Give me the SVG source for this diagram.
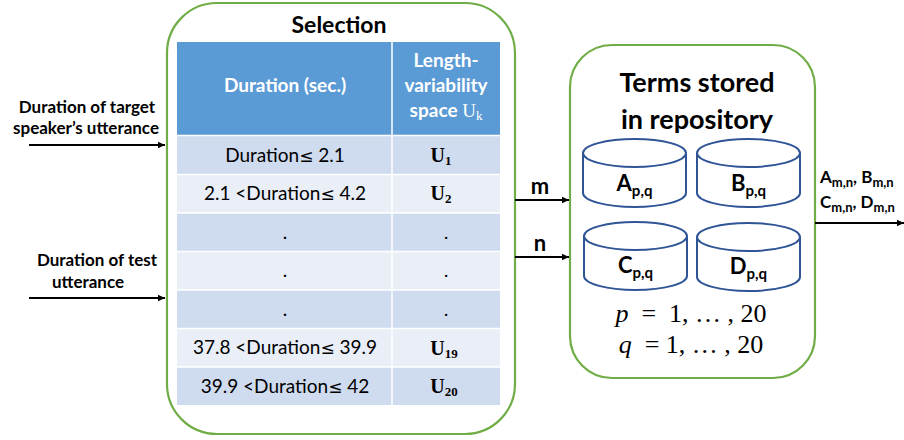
<svg xmlns="http://www.w3.org/2000/svg" width="904" height="440" viewBox="0 0 904 440">
<defs>
<marker id="ah" markerWidth="8" markerHeight="8" refX="7" refY="4" orient="auto" markerUnits="userSpaceOnUse">
<path d="M0,0.8 L7,4 L0,7.2 z" fill="#000"/>
</marker>
<style>
.panel{fill:#fff;stroke:#70AD47;stroke-width:2.2}
.hdr{fill:#5B9BD5}
.r1{fill:#CFDBEE}
.r2{fill:#E9EEF7}
.grid{stroke:#fff;stroke-width:1.5}
.t{font-family:Lato,"Liberation Sans",sans-serif;fill:#000}
.b{font-weight:bold}
.w{fill:#fff}
.m{font-family:"Liberation Serif","DejaVu Serif",serif;fill:#000}
.cyl{fill:#fff;stroke:#2F5597;stroke-width:2}
.conn{stroke:#000;stroke-width:2;fill:none}
.td{font-size:19px}
.le{font-family:"DejaVu Sans",sans-serif;font-size:17px}
</style>
</defs>
<rect width="904" height="440" fill="#fff"/>

<g id="selection">
<rect class="panel" x="167" y="3" width="348" height="431" rx="50" ry="50"/>
<text class="t b" x="339" y="33" font-size="23" text-anchor="middle">Selection</text>
<rect class="hdr" x="177" y="42" width="323" height="93"/>
<rect class="r1" x="177" y="136" width="323" height="38"/>
<rect class="r2" x="177" y="174.5" width="323" height="38"/>
<rect class="r1" x="177" y="213" width="323" height="38"/>
<rect class="r2" x="177" y="251.5" width="323" height="38"/>
<rect class="r1" x="177" y="290" width="323" height="38"/>
<rect class="r2" x="177" y="328.5" width="323" height="38"/>
<rect class="r1" x="177" y="367" width="323" height="38"/>
<line class="grid" x1="392" y1="42" x2="392" y2="405"/>
<line class="grid" x1="177" y1="135.5" x2="500" y2="135.5"/>
<line class="grid" x1="177" y1="174.5" x2="500" y2="174.5"/>
<line class="grid" x1="177" y1="213" x2="500" y2="213"/>
<line class="grid" x1="177" y1="251.5" x2="500" y2="251.5"/>
<line class="grid" x1="177" y1="290" x2="500" y2="290"/>
<line class="grid" x1="177" y1="328.5" x2="500" y2="328.5"/>
<line class="grid" x1="177" y1="367" x2="500" y2="367"/>
<text class="t b w" x="285" y="92" font-size="19" text-anchor="middle">Duration (sec.)</text>
<text class="t b w" x="446" y="67" font-size="19" text-anchor="middle">Length-</text>
<text class="t b w" x="446" y="92" font-size="19" text-anchor="middle">variability</text>
<text class="t b w" x="446" y="117" font-size="19" text-anchor="middle">space <tspan font-family="Liberation Serif,serif" font-weight="normal">U<tspan font-size="13" dy="3">k</tspan></tspan></text>
<text class="t td" x="285" y="162" text-anchor="middle">Duration<tspan class="le">≤</tspan> 2.1</text>
<text class="t td" x="285" y="200" text-anchor="middle">2.1 &lt;Duration<tspan class="le">≤</tspan> 4.2</text>
<text class="t td" x="285" y="239" text-anchor="middle">.</text>
<text class="t td" x="285" y="277" text-anchor="middle">.</text>
<text class="t td" x="285" y="316" text-anchor="middle">.</text>
<text class="t td" x="285" y="354" text-anchor="middle">37.8 &lt;Duration<tspan class="le">≤</tspan> 39.9</text>
<text class="t td" x="285" y="393" text-anchor="middle">39.9 &lt;Duration<tspan class="le">≤</tspan> 42</text>
<text class="m b" x="441" y="162" font-size="20" text-anchor="middle">U<tspan font-size="13" dy="3">1</tspan></text>
<text class="m b" x="441" y="200" font-size="20" text-anchor="middle">U<tspan font-size="13" dy="3">2</tspan></text>
<text class="m" x="446" y="239" font-size="19" text-anchor="middle">.</text>
<text class="m" x="446" y="277" font-size="19" text-anchor="middle">.</text>
<text class="m" x="446" y="316" font-size="19" text-anchor="middle">.</text>
<text class="m b" x="444" y="355" font-size="20" text-anchor="middle">U<tspan font-size="13" dy="3">19</tspan></text>
<text class="m b" x="444" y="393" font-size="20" text-anchor="middle">U<tspan font-size="13" dy="3">20</tspan></text>
</g>

<g id="repository">
<rect class="panel" x="570" y="45" width="245" height="333" rx="42" ry="42"/>
<text class="t b" x="697" y="92" font-size="27" text-anchor="middle">Terms stored</text>
<text class="t b" x="697" y="129" font-size="27" text-anchor="middle">in repository</text>
</g>

<g id="cylA">
<path class="cyl" d="M583,153 V193 A51.5,14 0 0 0 686,193 V153"/>
<ellipse class="cyl" cx="634.5" cy="153" rx="51.5" ry="14"/>
<text class="t b" x="634.5" y="191" font-size="22" text-anchor="middle">A<tspan font-size="15" dy="5">p,q</tspan></text>
</g>
<g id="cylB">
<path class="cyl" d="M697,153 V193 A51.5,14 0 0 0 800,193 V153"/>
<ellipse class="cyl" cx="748.5" cy="153" rx="51.5" ry="14"/>
<text class="t b" x="748.5" y="191" font-size="22" text-anchor="middle">B<tspan font-size="15" dy="5">p,q</tspan></text>
</g>
<g id="cylC">
<path class="cyl" d="M584,236 V276 A51.5,14 0 0 0 687,276 V236"/>
<ellipse class="cyl" cx="635.5" cy="236" rx="51.5" ry="14"/>
<text class="t b" x="635.5" y="273" font-size="22" text-anchor="middle">C<tspan font-size="15" dy="5">p,q</tspan></text>
</g>
<g id="cylD">
<path class="cyl" d="M697,237 V277 A51.5,14 0 0 0 800,277 V237"/>
<ellipse class="cyl" cx="748.5" cy="237" rx="51.5" ry="14"/>
<text class="t b" x="748.5" y="274" font-size="22" text-anchor="middle">D<tspan font-size="15" dy="5">p,q</tspan></text>
</g>
<g id="ranges">
<text class="m" x="691" y="322" font-size="26" text-anchor="middle" xml:space="preserve"><tspan font-style="italic">p</tspan>  =  1, … , 20</text>
<text class="m" x="691" y="353" font-size="26" text-anchor="middle" xml:space="preserve"><tspan font-style="italic">q</tspan>  = 1, … , 20</text>
</g>

<g id="inputs">
<text class="t b" x="87" y="113" font-size="17" text-anchor="middle">Duration of target</text>
<text class="t b" x="86" y="134" font-size="17" text-anchor="middle">speaker’s utterance</text>
<text class="t b" x="97" y="266" font-size="17" text-anchor="middle">Duration of test</text>
<text class="t b" x="88" y="288" font-size="17" text-anchor="middle">utterance</text>
</g>

<g id="output-label">
<text class="t b" x="820" y="183" font-size="17">A<tspan font-size="13" dy="4">m,n</tspan><tspan dy="-4">, B</tspan><tspan font-size="13" dy="4">m,n</tspan></text>
<text class="t b" x="820" y="208" font-size="17">C<tspan font-size="13" dy="4">m,n</tspan><tspan dy="-4">, D</tspan><tspan font-size="13" dy="4">m,n</tspan></text>
</g>

<g id="connectors">
<line class="conn" x1="29" y1="145" x2="165" y2="145" marker-end="url(#ah)"/>
<line class="conn" x1="29" y1="298" x2="165" y2="298" marker-end="url(#ah)"/>
<line class="conn" x1="515" y1="200" x2="569" y2="200" marker-end="url(#ah)"/>
<line class="conn" x1="515" y1="257" x2="569" y2="257" marker-end="url(#ah)"/>
<line class="conn" x1="815" y1="223" x2="904" y2="223" marker-end="url(#ah)"/>
<text class="t b" x="540" y="194" font-size="22" text-anchor="middle">m</text>
<text class="t b" x="540" y="251" font-size="22" text-anchor="middle">n</text>
</g>
</svg>
